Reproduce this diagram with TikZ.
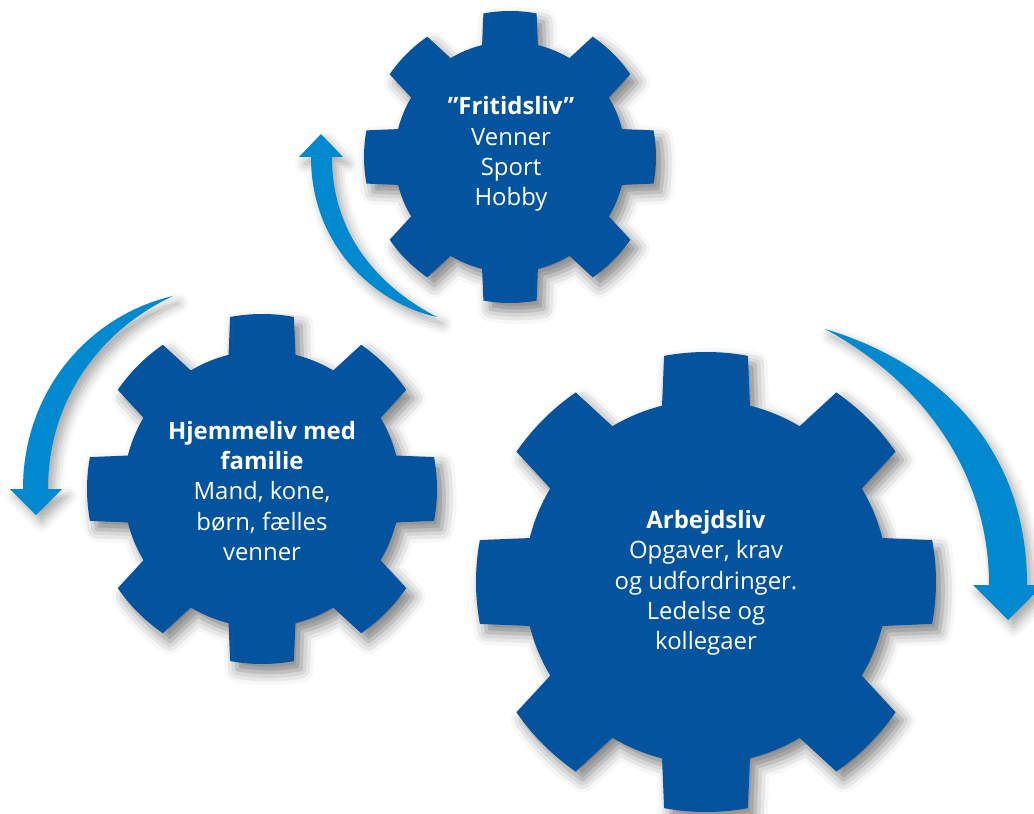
\documentclass[tikz,border=0pt]{standalone}
\usepackage{fontspec}
\setmainfont{Open Sans}
\usetikzlibrary{shadows.blur}

\definecolor{gearblue}{RGB}{3,83,158}
\definecolor{arrowblue}{RGB}{0,137,207}

\tikzset{
  gear/.style={fill=gearblue,blur shadow={shadow xshift=5pt,shadow yshift=-6pt,shadow blur radius=9pt,shadow opacity=50}},
  bendarrow/.style={fill=arrowblue,blur shadow={shadow xshift=4pt,shadow yshift=-5pt,shadow blur radius=7pt,shadow opacity=35}},
  geartext/.style={text=white,align=center,font=\fontsize{17}{21.5}\selectfont}
}

\begin{document}
\begin{tikzpicture}[x=0.025cm,y=-0.025cm]

\useasboundingbox (0,0) rectangle (1034,814);

      \foreach \name/\cx/\cy/\R in {Gear1/510/157/146,Gear2/262/489/175,Gear3/706/582/230}{
        \begin{scope}[shift={(\cx,\cy)}]
        \fill[gear] (-14:{0.79*\R}) \foreach \a in {0,45,...,315}{
            -- ({\a-10.5}:\R) arc[start angle=\a-10.5,end angle=\a+10.5,radius=\R]
            -- ({\a+14}:{0.79*\R}) arc[start angle=\a+14,end angle=\a+31,radius={0.79*\R}]} -- cycle;
        \coordinate (\name) at (0,0);
        \end{scope}
      }

       \node[geartext] (fri) at (511,154) {\textbf{”Fritidsliv”}\\Venner\\Sport\\Hobby};
       \node[geartext] (hjem) at (262,491) {\textbf{Hjemmeliv med}\\\textbf{familie}\\Mand, kone,\\børn, fælles\\venner};
       \node[geartext] (arb) at (706,583) {\textbf{Arbejdsliv}\\Opgaver, krav\\og udfordringer.\\Ledelse og\\kollegaer};

   \coordinate (t1) at (437,317);
   \coordinate (t2) at (173,296);
   \coordinate (t3) at (825,329);

\fill[bendarrow] (t1) .. controls (380,305) and (311,250) .. (311,157) -- (299,157) -- (321,134) -- (343,157) -- (332,157) .. controls (332,240) and (385,290) .. (t1) -- cycle;
\fill[bendarrow] (t2) .. controls (90,315) and (23,390) .. (23,489) -- (10,489) -- (36,515) -- (62,489) -- (48,489) .. controls (48,400) and (100,330) .. (t2) -- cycle;
\fill[bendarrow] (t3) .. controls (930,360) and (1027,440) .. (1027,585) -- (1043,585) -- (1008,620) -- (973,585) -- (989,585) .. controls (989,470) and (920,380) .. (t3) -- cycle;
\end{tikzpicture}
\end{document}
